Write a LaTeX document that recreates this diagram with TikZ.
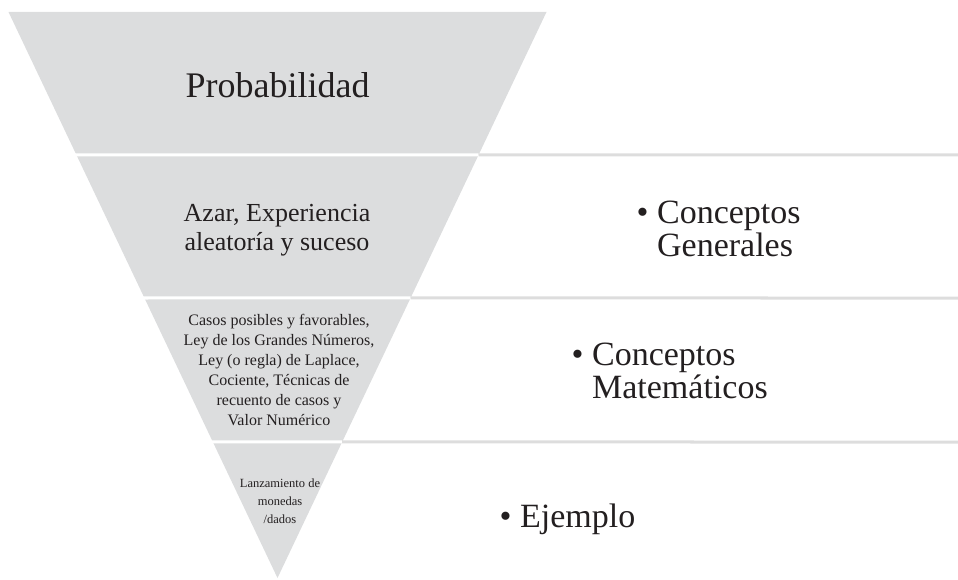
\documentclass[tikz,border=0pt]{standalone}
\usepackage{fontspec}
\setmainfont{Liberation Serif}
\usetikzlibrary{calc}
\definecolor{bandgrey}{HTML}{DCDDDE}
\definecolor{rulegrey}{HTML}{DDDDDD}
\definecolor{ink}{HTML}{231F20}
\tikzset{
  lefttext/.style={anchor=base, inner sep=0pt, text=ink},
  righttext/.style={anchor=base west, inner sep=0pt, text=ink},
  gap/.style={white, line width=3pt},
  sepline/.style={rulegrey, line width=3pt}
}
\begin{document}
\begin{tikzpicture}[x=1pt,y=-1pt]
\useasboundingbox (0,0) rectangle (958,580);
\coordinate (tl) at (8.5,12);
\coordinate (tr) at (546.5,12);
\coordinate (ap) at (277.5,578);
\fill[bandgrey] (tl) -- (tr) -- (ap) -- cycle;
% separators
\foreach \yy/\nm in {155/a,298/b,442/c}{
  \coordinate (r\nm) at ($(tr)!{(\yy-12)/566}!(ap)$);
  \coordinate (e\nm) at (958,\yy);
  \coordinate (s\nm) at (0,\yy);
  \draw[gap] (s\nm) -- (r\nm);
  \draw[sepline] (r\nm) -- (e\nm);
}
% left texts
\node[lefttext] (t1) at (277.5,98) {\fontsize{36}{40}\selectfont Probabilidad};
\node[lefttext] (t2) at (277,222) {\fontsize{26}{29}\selectfont\begin{tabular}[t]{@{}c@{}}Azar, Experiencia\\aleatoría y suceso\end{tabular}};
\node[lefttext] (t3) at (279,325) {\fontsize{16}{20}\selectfont\begin{tabular}[t]{@{}c@{}}Casos posibles y favorables,\\Ley de los Grandes Números,\\Ley (o regla) de Laplace,\\Cociente, Técnicas de\\recuento de casos y\\Valor Numérico\end{tabular}};
\node[lefttext] (t4) at (280,487) {\fontsize{12.5}{18}\selectfont\begin{tabular}[t]{@{}c@{}}Lanzamiento de\\monedas\\/dados\end{tabular}};
% right texts
\node[righttext] (r1) at (636.5,223) {\fontsize{34}{33}\selectfont\begin{tabular}[t]{@{}l@{\ }l@{}}•&Conceptos\\&Generales\end{tabular}};
\node[righttext] (r2) at (571.5,365) {\fontsize{34}{33}\selectfont\begin{tabular}[t]{@{}l@{\ }l@{}}•&Conceptos\\&Matemáticos\end{tabular}};
\node[righttext] (r3) at (499.5,527) {\fontsize{34}{33}\selectfont •\ Ejemplo};
\end{tikzpicture}
\end{document}
